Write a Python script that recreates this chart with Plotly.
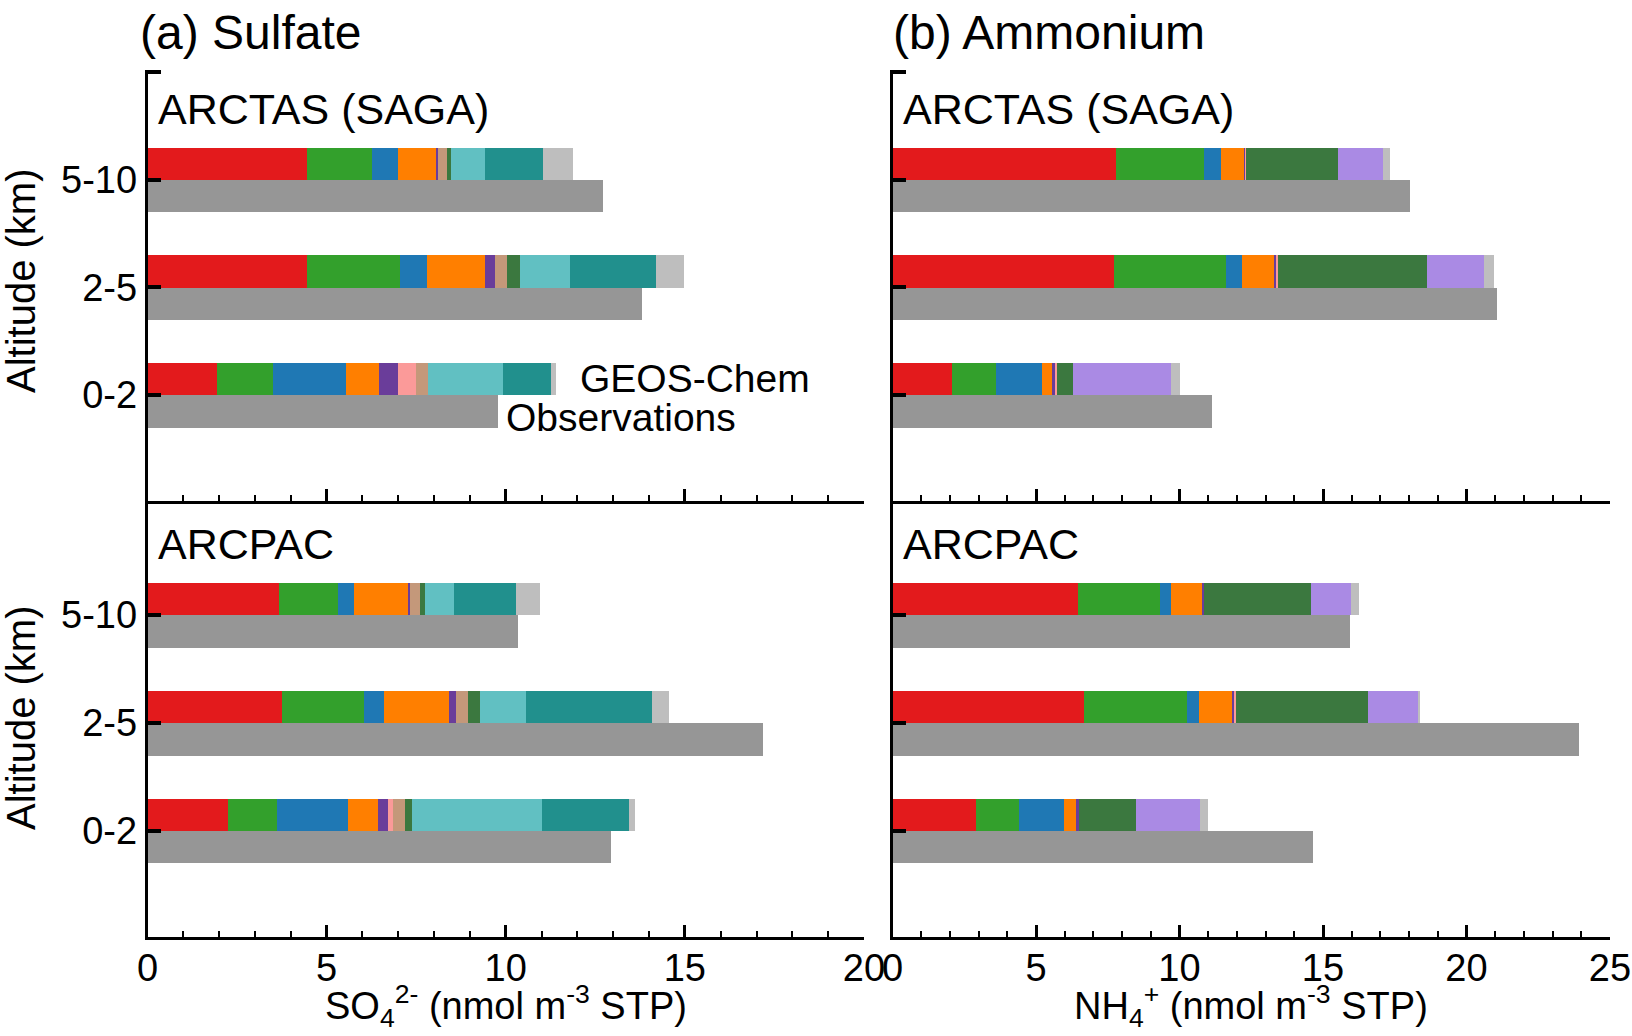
import plotly.graph_objects as go

W, H = 1632, 1036

altitudes = ["0-2", "2-5", "5-10"]
alt_pos = [0, 1, 2]

# Source segments (stacked, in plotting order) -- values per altitude [0-2, 2-5, 5-10]
seg_names = ["Seg 1", "Seg 2", "Seg 3", "Seg 4", "Seg 5", "Seg 6", "Seg 7",
             "Seg 8", "Seg 9", "Seg 10", "Seg 11", "Seg 12"]
seg_colors = ["#E31A1C", "#33A02C", "#1F78B4", "#FF7F00", "#6A3D9A", "#FB9A99",
              "#C4987A", "#3B783F", "#61C0C2", "#21908D", "#AA8AE4", "#BEBEBE"]

# Sulfate, ARCTAS (SAGA)
so4_arctas = [
    [1.93, 4.44, 4.44],   # red
    [1.56, 2.60, 1.82],   # green
    [2.04, 0.76, 0.72],   # blue
    [0.92, 1.61, 1.06],   # orange
    [0.53, 0.28, 0.06],   # purple
    [0.51, 0.00, 0.00],   # pink
    [0.32, 0.34, 0.25],   # tan
    [0.00, 0.36, 0.11],   # dark green
    [2.11, 1.40, 0.95],   # light teal
    [1.34, 2.40, 1.62],   # teal
    [0.00, 0.00, 0.00],   # lavender
    [0.14, 0.78, 0.84],   # light gray
]
so4_arctas_obs = [9.78, 13.80, 12.70]

# Sulfate, ARCPAC
so4_arcpac = [
    [2.23, 3.74, 3.66],
    [1.37, 2.30, 1.65],
    [1.99, 0.55, 0.44],
    [0.83, 1.82, 1.51],
    [0.28, 0.19, 0.06],
    [0.14, 0.00, 0.00],
    [0.34, 0.34, 0.28],
    [0.19, 0.33, 0.14],
    [3.64, 1.29, 0.81],
    [2.43, 3.51, 1.73],
    [0.00, 0.00, 0.00],
    [0.16, 0.48, 0.67],
]
so4_arcpac_obs = [12.91, 17.18, 10.34]

# Ammonium, ARCTAS (SAGA)
nh4_arctas = [
    [2.06, 7.71, 7.77],
    [1.53, 3.88, 3.07],
    [1.60, 0.57, 0.59],
    [0.35, 1.11, 0.80],
    [0.13, 0.10, 0.04],
    [0.04, 0.06, 0.03],
    [0.00, 0.00, 0.00],
    [0.56, 5.18, 3.21],
    [0.00, 0.00, 0.00],
    [0.00, 0.00, 0.00],
    [3.42, 1.98, 1.56],
    [0.31, 0.36, 0.25],
]
nh4_arctas_obs = [11.11, 21.05, 18.01]

# Ammonium, ARCPAC
nh4_arcpac = [
    [2.89, 6.66, 6.45],
    [1.50, 3.58, 2.85],
    [1.57, 0.42, 0.39],
    [0.42, 1.18, 1.11],
    [0.10, 0.06, 0.04],
    [0.00, 0.05, 0.00],
    [0.00, 0.00, 0.00],
    [1.99, 4.60, 3.72],
    [0.00, 0.00, 0.00],
    [0.00, 0.00, 0.00],
    [2.23, 1.75, 1.40],
    [0.28, 0.04, 0.28],
]
nh4_arcpac_obs = [14.63, 23.90, 15.92]

OBS_COLOR = "#969696"
FONT = "Arial, Liberation Sans, Helvetica, sans-serif"
BAR_H = 0.30

fig = go.Figure()

panels = [
    (so4_arctas, so4_arctas_obs, "x3", "y3"),
    (nh4_arctas, nh4_arctas_obs, "x4", "y4"),
    (so4_arcpac, so4_arcpac_obs, "x", "y"),
    (nh4_arcpac, nh4_arcpac_obs, "x2", "y2"),
]

for segs, obs, xa, ya in panels:
    for name, color, vals in zip(seg_names, seg_colors, segs):
        fig.add_trace(go.Bar(
            x=vals, y=[p + BAR_H / 2 for p in alt_pos], orientation="h",
            width=BAR_H, marker=dict(color=color, line=dict(width=0)),
            name=name, showlegend=False, xaxis=xa, yaxis=ya))
    fig.add_trace(go.Bar(
        x=obs, y=[p - BAR_H / 2 for p in alt_pos], orientation="h",
        width=BAR_H, marker=dict(color=OBS_COLOR, line=dict(width=0)),
        name="Observations", showlegend=False, xaxis=xa, yaxis=ya))

def px_x(px):
    return px / W

def px_y(py):
    return 1 - py / H

xl = [px_x(147.5), px_x(864)]
xr = [px_x(892.5), px_x(1610)]
yt = [px_y(500.6), px_y(69.7)]
yb = [px_y(936.7), px_y(500.6)]

tickfont = dict(family=FONT, size=38, color="black")

def xaxis_cfg(domain, rng, anchor, labels):
    return dict(domain=domain, range=rng, anchor=anchor, automargin=False,
                showline=True, linecolor="black", linewidth=2.5,
                ticks="inside", ticklen=12, tickwidth=2.5, tickcolor="black",
                dtick=5, tick0=0, ticklabelstandoff=-4,
                minor=dict(dtick=1, ticks="inside", ticklen=6, tickwidth=2, tickcolor="black"),
                showgrid=False, zeroline=False,
                showticklabels=labels, tickfont=tickfont, fixedrange=True)

def yaxis_cfg(domain, rng, anchor, vals, texts):
    return dict(domain=domain, range=rng, anchor=anchor, automargin=False,
                showline=True, linecolor="black", linewidth=2.5,
                ticks="inside", ticklen=14, tickwidth=3.5, tickcolor="black",
                tickvals=vals, ticktext=texts,
                showgrid=False, zeroline=False,
                tickfont=tickfont, fixedrange=True)

fig.update_layout(
    template="none",
    width=W, height=H,
    margin=dict(l=0, r=0, t=0, b=0, autoexpand=False),
    paper_bgcolor="white", plot_bgcolor="white",
    barmode="stack", bargap=0,
    font=dict(family=FONT, color="black"),
    xaxis=xaxis_cfg(xl, [0, 20], "y", True),
    xaxis2=xaxis_cfg(xr, [0, 25], "y2", True),
    xaxis3=xaxis_cfg(xl, [0, 20], "y3", False),
    xaxis4=xaxis_cfg(xr, [0, 25], "y4", False),
    yaxis=yaxis_cfg(yb, [-0.984, 3.06], "x", alt_pos, altitudes),
    yaxis2=yaxis_cfg(yb, [-0.984, 3.06], "x2", alt_pos, ["", "", ""]),
    yaxis3=yaxis_cfg(yt, [-0.98, 3.02], "x3", alt_pos + [3], altitudes + [""]),
    yaxis4=yaxis_cfg(yt, [-0.98, 3.02], "x4", alt_pos + [3], ["", "", "", ""]),
)

def ann(text, x, y, size, xanchor="left", yanchor="middle", angle=0):
    fig.add_annotation(text=text, x=px_x(x), y=px_y(y), xref="paper", yref="paper",
                       xanchor=xanchor, yanchor=yanchor, showarrow=False, textangle=angle,
                       font=dict(family=FONT, size=size, color="black"))

ann("(a) Sulfate", 138, 33, 48)
ann("(b) Ammonium", 891, 33, 48)
ann("ARCTAS (SAGA)", 156, 109, 43)
ann("ARCTAS (SAGA)", 901, 109, 43)
ann("ARCPAC", 156, 544, 43)
ann("ARCPAC", 901, 544, 43)
ann("GEOS-Chem", 578, 378, 39)
ann("Observations", 504, 418, 39)
ann("Altitude (km)", 21, 281, 40, xanchor="center", angle=-90)
ann("Altitude (km)", 21, 718, 40, xanchor="center", angle=-90)
ann("SO<sub>4</sub><sup>2-</sup> (nmol m<sup>-3</sup> STP)", 506, 1006, 38, xanchor="center")
ann("NH<sub>4</sub><sup>+</sup> (nmol m<sup>-3</sup> STP)", 1251, 1006, 38, xanchor="center")

fig.write_html("out.html")
